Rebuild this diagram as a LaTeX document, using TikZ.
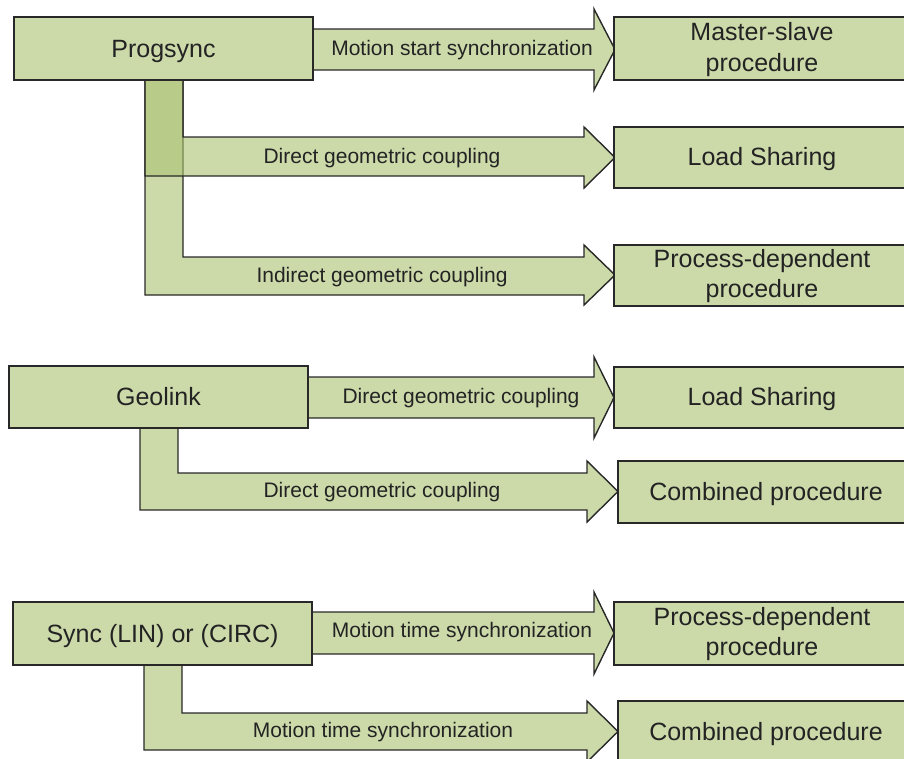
\documentclass[tikz,border=0pt]{standalone}
\usepackage{fontspec}
\setmainfont{Liberation Sans}
\definecolor{boxgreen}{RGB}{204,218,170}
\definecolor{arrbase}{RGB}{170,193,113}
\definecolor{edge}{RGB}{40,40,40}
\definecolor{txt}{RGB}{35,35,35}
\begin{document}
\begin{tikzpicture}[x=1pt,y=-1pt,
  box/.style={draw=edge, fill=boxgreen, line width=1.4pt, inner sep=0pt, minimum width=296pt, minimum height=62pt},
  blockarrow/.style={draw=edge, fill=arrbase, fill opacity=0.6, line width=1.4pt, line join=miter},
  boxtext/.style={anchor=base, text=txt, font=\fontsize{25}{30}\selectfont, inner sep=0pt},
  arrtext/.style={anchor=base, text=txt, font=\fontsize{21}{25}\selectfont, inner sep=0pt}]
\useasboundingbox (0,0) rectangle (904,758);
\clip (0,0) rectangle (904,758);

% ---------- group 1 : Progsync ----------
\draw[blockarrow] (300,29) -- (594,29) -- (594,9) -- (615,49.5) -- (594,90) -- (594,70) -- (300,70) -- cycle;
\draw[blockarrow] (145,70) -- (145,295) -- (584,295) -- (584,305) -- (615,275) -- (584,245) -- (584,257) -- (183,257) -- (183,70) -- cycle;
\draw[blockarrow] (145,70) -- (145,176) -- (584,176) -- (584,188) -- (615,157.5) -- (584,127) -- (584,137) -- (183,137) -- (183,70) -- cycle;

\node[box, minimum width=299pt, minimum height=63pt] (P) at (163.5,48.5) {};
\node[box, minimum height=63pt] (MS) at (762,48.5) {};
\node[box, minimum height=61pt] (LS1) at (762,157.5) {};
\node[box, minimum height=61pt] (PD1) at (762,275.5) {};

\node[boxtext] (tP) at ([yshift=-8.5pt]P.center) {Progsync};
\node[boxtext] (tMS1) at ([yshift=8.5pt]MS.center) {Master-slave};
\node[boxtext] (tMS2) at ([yshift=-23pt]MS.center) {procedure};
\node[boxtext] (tLS1) at ([yshift=-8pt]LS1.center) {Load Sharing};
\node[boxtext] (tPD1a) at ([yshift=8.5pt]PD1.center) {Process-dependent};
\node[boxtext] (tPD1b) at ([yshift=-21.5pt]PD1.center) {procedure};

\node[arrtext] (a1) at (462,55) {Motion start synchronization};
\node[arrtext] (a2) at (382,163) {Direct geometric coupling};
\node[arrtext] (a3) at (382,282) {Indirect geometric coupling};

% ---------- group 2 : Geolink ----------
\draw[blockarrow] (300,377) -- (594,377) -- (594,357) -- (614,397.5) -- (594,438) -- (594,418) -- (300,418) -- cycle;
\draw[blockarrow] (140,420) -- (140,510) -- (587,510) -- (587,522) -- (618,491.5) -- (587,461) -- (587,473) -- (178,473) -- (178,420) -- cycle;

\node[box, minimum width=299pt, minimum height=62pt] (G) at (158.5,397) {};
\node[box, minimum height=61pt] (LS2) at (762,397.5) {};
\node[box, minimum height=62pt] (CP2) at (766,492) {};

\node[boxtext] (tG) at ([yshift=-8.5pt]G.center) {Geolink};
\node[boxtext] (tLS2) at ([yshift=-8pt]LS2.center) {Load Sharing};
\node[boxtext] (tCP2) at ([yshift=-8.5pt]CP2.center) {Combined procedure};

\node[arrtext] (a4) at (461,403) {Direct geometric coupling};
\node[arrtext] (a5) at (382,497) {Direct geometric coupling};

% ---------- group 3 : Sync ----------
\draw[blockarrow] (300,612) -- (594,612) -- (594,592) -- (614,633) -- (594,674) -- (594,654) -- (300,654) -- cycle;
\draw[blockarrow] (144,655) -- (144,750) -- (587,750) -- (587,762) -- (618,731.5) -- (587,701) -- (587,713) -- (182,713) -- (182,655) -- cycle;

\node[box, minimum width=299pt, minimum height=63pt] (S) at (162.5,633.5) {};
\node[box, minimum height=63pt] (PD2) at (762,633.5) {};
\node[box, minimum height=62pt] (CP3) at (766,732) {};

\node[boxtext] (tS) at ([yshift=-8.5pt]S.center) {Sync (LIN) or (CIRC)};
\node[boxtext] (tPD2a) at ([yshift=8.5pt]PD2.center) {Process-dependent};
\node[boxtext] (tPD2b) at ([yshift=-21.5pt]PD2.center) {procedure};
\node[boxtext] (tCP3) at ([yshift=-8.5pt]CP3.center) {Combined procedure};

\node[arrtext] (a6) at (462,637) {Motion time synchronization};
\node[arrtext] (a7) at (383,737) {Motion time synchronization};
\end{tikzpicture}
\end{document}
